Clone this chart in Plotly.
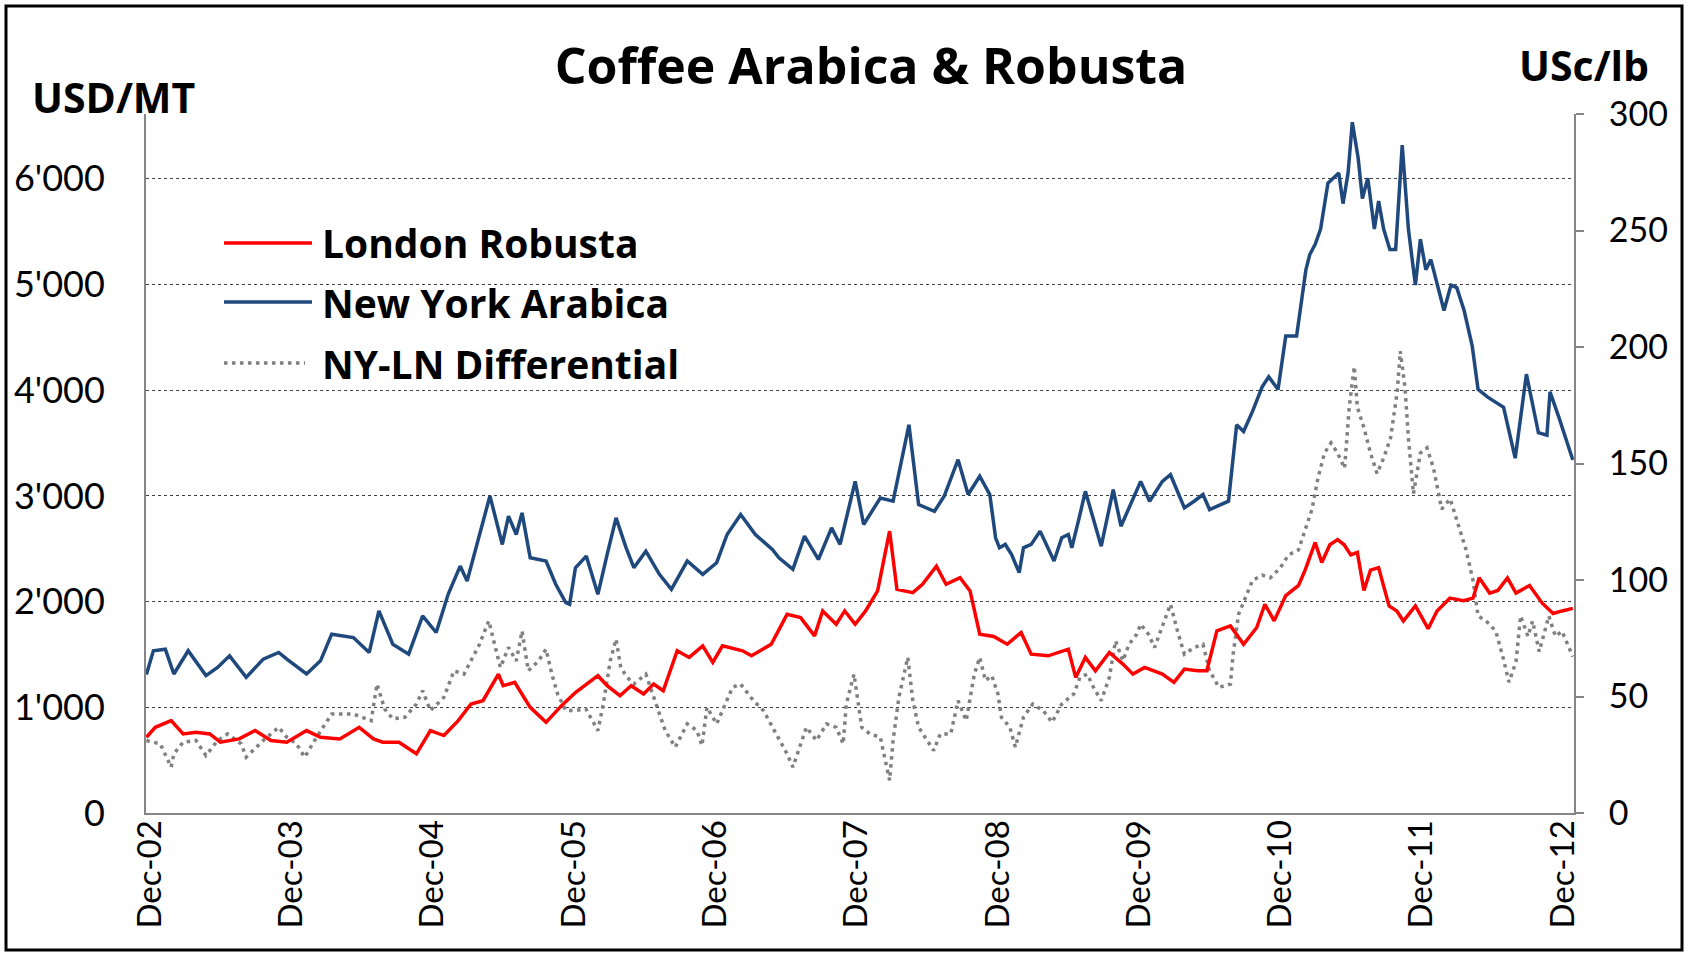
import plotly.graph_objects as go

# New York Arabica, USD/MT
arabica_dates = [
    "2002-11-22", "2002-12-10", "2003-01-10", "2003-02-01", "2003-03-10", "2003-04-25",
    "2003-05-25", "2003-06-25", "2003-08-07", "2003-09-20", "2003-10-30", "2003-11-20",
    "2004-01-10", "2004-02-15", "2004-03-15", "2004-05-10", "2004-06-20", "2004-07-15",
    "2004-08-20", "2004-09-30", "2004-11-05", "2004-12-10", "2005-01-10", "2005-02-10",
    "2005-02-28", "2005-04-01", "2005-04-28", "2005-05-30", "2005-06-15", "2005-07-05",
    "2005-07-20", "2005-08-10", "2005-09-20", "2005-10-15", "2005-11-10", "2005-11-20",
    "2005-12-05", "2006-01-02", "2006-02-01", "2006-02-25", "2006-03-20", "2006-04-15",
    "2006-05-05", "2006-06-05", "2006-07-10", "2006-08-10", "2006-09-20", "2006-10-30",
    "2006-12-05", "2007-01-01", "2007-02-05", "2007-03-15", "2007-04-28", "2007-05-15",
    "2007-06-20", "2007-07-20", "2007-08-25", "2007-09-28", "2007-10-20", "2007-11-28",
    "2007-12-20", "2008-02-01", "2008-03-05", "2008-04-15", "2008-05-10", "2008-06-20",
    "2008-07-15", "2008-08-20", "2008-09-15", "2008-10-15", "2008-11-10", "2008-11-25",
    "2008-12-05", "2008-12-20", "2009-01-05", "2009-01-25", "2009-02-05", "2009-02-25",
    "2009-03-20", "2009-04-25", "2009-05-15", "2009-06-01", "2009-06-10", "2009-07-01",
    "2009-07-15", "2009-08-25", "2009-09-25", "2009-10-15", "2009-11-25", "2009-12-05",
    "2009-12-28", "2010-01-30", "2010-02-20", "2010-03-28", "2010-04-22", "2010-05-15",
    "2010-06-01", "2010-07-20", "2010-08-10", "2010-08-28", "2010-09-20", "2010-10-15",
    "2010-11-01", "2010-11-25", "2010-12-15", "2011-01-12", "2011-02-05", "2011-02-15",
    "2011-03-01", "2011-03-15", "2011-04-03", "2011-05-01", "2011-05-12", "2011-05-25",
    "2011-06-05", "2011-06-20", "2011-07-01", "2011-07-15", "2011-08-01", "2011-08-12",
    "2011-08-25", "2011-09-10", "2011-09-25", "2011-10-12", "2011-10-28", "2011-11-15",
    "2011-11-28", "2011-12-12", "2011-12-25", "2012-01-10", "2012-01-28", "2012-02-15",
    "2012-03-01", "2012-03-20", "2012-04-10", "2012-04-25", "2012-05-20", "2012-06-30",
    "2012-07-30", "2012-08-28", "2012-09-28", "2012-10-20", "2012-10-28", "2012-11-20",
    "2012-12-26",
]
arabica_usd = [
    1310, 1535, 1550, 1315, 1535, 1300,
    1377, 1487, 1283, 1456, 1519, 1456,
    1315, 1440, 1692, 1660, 1519, 1912,
    1597, 1503, 1865, 1708, 2069, 2336,
    2195, 2620, 3000, 2541, 2808, 2635,
    2840, 2415, 2384, 2164, 1991, 1975,
    2321, 2431, 2069, 2447, 2792, 2509,
    2321, 2478, 2258, 2116, 2384, 2258,
    2368, 2635, 2824, 2635, 2494, 2415,
    2305, 2620, 2399, 2698, 2541, 3138,
    2730, 2981, 2950, 3673, 2918, 2855,
    2997, 3343, 3013, 3186, 3013, 2604,
    2509, 2541, 2447, 2274, 2509, 2541,
    2667, 2384, 2604, 2635, 2509, 2824,
    3044, 2525, 3060, 2714, 3044, 3138,
    2950, 3138, 3201, 2887, 2950, 3013,
    2871, 2950, 3673, 3610, 3800, 4032,
    4128, 4008, 4513, 4513, 5140, 5284,
    5380, 5525, 5959, 6055, 5766, 6055,
    6536, 6200, 5814, 6007, 5525, 5790,
    5525, 5332, 5332, 6320, 5525, 4995,
    5429, 5140, 5236, 4995, 4754, 4995,
    4971, 4754, 4417, 4008, 3935, 3839,
    3357, 4152, 3598, 3574, 3984, 3743,
    3340,
]

# London Robusta, USD/MT
robusta_dates = [
    "2002-11-22", "2002-12-15", "2003-01-25", "2003-02-25", "2003-03-30", "2003-05-05",
    "2003-06-01", "2003-07-20", "2003-08-30", "2003-10-10", "2003-11-20", "2004-01-10",
    "2004-02-15", "2004-04-05", "2004-05-25", "2004-07-01", "2004-07-25", "2004-09-05",
    "2004-10-20", "2004-11-25", "2004-12-30", "2005-02-05", "2005-03-10", "2005-04-10",
    "2005-05-20", "2005-06-01", "2005-07-01", "2005-08-10", "2005-09-20", "2005-10-30",
    "2005-12-05", "2006-02-01", "2006-02-25", "2006-03-30", "2006-04-28", "2006-05-30",
    "2006-06-25", "2006-07-20", "2006-08-25", "2006-09-25", "2006-10-30", "2006-11-25",
    "2006-12-20", "2007-02-10", "2007-03-05", "2007-04-25", "2007-06-05", "2007-07-10",
    "2007-08-15", "2007-09-05", "2007-10-10", "2007-11-01", "2007-11-28", "2007-12-25",
    "2008-01-25", "2008-02-25", "2008-03-15", "2008-04-25", "2008-05-20", "2008-06-25",
    "2008-07-20", "2008-08-25", "2008-09-20", "2008-10-15", "2008-11-20", "2008-12-25",
    "2009-01-30", "2009-02-25", "2009-04-10", "2009-06-01", "2009-06-20", "2009-07-15",
    "2009-08-10", "2009-09-15", "2009-10-20", "2009-11-15", "2009-12-15", "2010-01-30",
    "2010-03-01", "2010-03-28", "2010-05-01", "2010-05-25", "2010-06-20", "2010-07-25",
    "2010-08-28", "2010-10-01", "2010-10-22", "2010-11-15", "2010-12-15", "2011-01-17",
    "2011-02-03", "2011-03-01", "2011-03-18", "2011-04-08", "2011-04-28", "2011-05-15",
    "2011-06-01", "2011-06-18", "2011-07-05", "2011-07-22", "2011-08-12", "2011-09-08",
    "2011-09-28", "2011-10-15", "2011-11-15", "2011-12-18", "2012-01-10", "2012-02-12",
    "2012-03-18", "2012-04-12", "2012-04-28", "2012-05-25", "2012-06-15", "2012-07-10",
    "2012-08-01", "2012-09-05", "2012-10-08", "2012-11-05", "2012-11-28", "2012-12-26",
]
robusta_usd = [
    717, 811, 874, 748, 764, 748,
    670, 701, 780, 686, 670, 780,
    717, 701, 811, 701, 670, 670,
    560, 780, 733, 874, 1031, 1063,
    1314, 1204, 1236, 1000, 858, 1016,
    1140, 1299, 1204, 1110, 1204, 1126,
    1220, 1157, 1535, 1472, 1582, 1425,
    1582, 1535, 1487, 1597, 1880, 1849,
    1676, 1912, 1786, 1912, 1786, 1912,
    2101, 2667, 2116, 2085, 2164, 2336,
    2164, 2226, 2101, 1692, 1670, 1597,
    1708, 1503, 1487, 1550, 1283, 1472,
    1346, 1519, 1409, 1314, 1377, 1314,
    1236, 1362, 1346, 1346, 1723, 1770,
    1597, 1755, 1975, 1818, 2057, 2153,
    2298, 2560, 2370, 2538, 2587, 2538,
    2442, 2466, 2105, 2298, 2322, 1960,
    1912, 1816, 1960, 1744, 1912, 2033,
    2009, 2033, 2225, 2081, 2105, 2225,
    2081, 2153, 1985, 1888, 1912, 1936,
]

# NY-LN differential, USD/MT
diff_dates = [
    "2002-11-22", "2002-12-10", "2002-12-28", "2003-01-25", "2003-02-01", "2003-02-25",
    "2003-03-30", "2003-04-25", "2003-05-25", "2003-06-20", "2003-07-25", "2003-08-07",
    "2003-09-20", "2003-10-30", "2003-11-20", "2003-12-15", "2004-01-05", "2004-02-05",
    "2004-03-15", "2004-04-20", "2004-05-10", "2004-06-25", "2004-07-10", "2004-07-30",
    "2004-08-20", "2004-09-20", "2004-10-20", "2004-11-05", "2004-11-25", "2004-12-30",
    "2005-01-25", "2005-02-20", "2005-03-10", "2005-04-01", "2005-04-25", "2005-05-10",
    "2005-05-25", "2005-06-15", "2005-07-05", "2005-07-20", "2005-08-05", "2005-09-01",
    "2005-09-20", "2005-10-05", "2005-10-20", "2005-11-10", "2005-12-01", "2006-01-01",
    "2006-02-01", "2006-02-15", "2006-03-05", "2006-03-20", "2006-04-01", "2006-04-18",
    "2006-05-05", "2006-06-05", "2006-07-10", "2006-07-25", "2006-08-20", "2006-09-20",
    "2006-10-15", "2006-10-28", "2006-11-10", "2006-12-05", "2006-12-20", "2007-01-15",
    "2007-02-05", "2007-03-10", "2007-04-05", "2007-04-28", "2007-06-05", "2007-06-20",
    "2007-07-05", "2007-07-25", "2007-08-20", "2007-09-15", "2007-10-10", "2007-10-28",
    "2007-11-05", "2007-11-25", "2007-12-15", "2008-01-05", "2008-02-01", "2008-02-18",
    "2008-02-25", "2008-03-05", "2008-03-20", "2008-04-12", "2008-04-25", "2008-05-10",
    "2008-06-01", "2008-06-18", "2008-07-05", "2008-08-01", "2008-08-20", "2008-09-10",
    "2008-10-01", "2008-10-15", "2008-10-30", "2008-11-15", "2008-12-01", "2008-12-10",
    "2009-01-01", "2009-01-15", "2009-02-05", "2009-03-01", "2009-03-28", "2009-04-20",
    "2009-05-15", "2009-06-15", "2009-07-01", "2009-07-20", "2009-08-05", "2009-08-25",
    "2009-09-15", "2009-10-01", "2009-10-20", "2009-11-05", "2009-11-25", "2009-12-05",
    "2009-12-25", "2010-01-10", "2010-02-01", "2010-02-20", "2010-03-10", "2010-03-28",
    "2010-04-22", "2010-05-15", "2010-06-01", "2010-06-25", "2010-07-25", "2010-08-01",
    "2010-08-15", "2010-09-05", "2010-09-20", "2010-10-15", "2010-11-05", "2010-12-01",
    "2010-12-22", "2011-01-17", "2011-02-03", "2011-02-21", "2011-03-08", "2011-03-25",
    "2011-04-11", "2011-04-28", "2011-05-16", "2011-05-28", "2011-06-10", "2011-06-18",
    "2011-07-05", "2011-07-22", "2011-08-08", "2011-08-25", "2011-09-12", "2011-09-29",
    "2011-10-07", "2011-10-19", "2011-10-28", "2011-11-10", "2011-11-28", "2011-12-15",
    "2012-01-01", "2012-01-22", "2012-02-13", "2012-03-08", "2012-03-25", "2012-04-12",
    "2012-04-25", "2012-05-16", "2012-06-10", "2012-06-28", "2012-07-14", "2012-08-01",
    "2012-08-13", "2012-09-01", "2012-09-13", "2012-09-30", "2012-10-25", "2012-11-11",
    "2012-11-28", "2012-12-26",
]
diff_usd = [
    686, 670, 654, 434, 560, 670,
    686, 544, 686, 748, 654, 528,
    686, 811, 717, 654, 528, 717,
    937, 937, 937, 874, 1220, 984,
    890, 906, 1031, 1157, 969, 1094,
    1346, 1314, 1440, 1597, 1818, 1597,
    1377, 1566, 1440, 1723, 1346, 1440,
    1550, 1314, 1126, 969, 969, 984,
    780, 1031, 1440, 1645, 1377, 1283,
    1220, 1314, 937, 780, 623, 843,
    780, 638, 1000, 843, 969, 1189,
    1220, 1063, 969, 811, 560, 434,
    607, 811, 686, 843, 811, 654,
    1031, 1314, 811, 748, 717, 402,
    308, 686, 1094, 1472, 1063, 811,
    686, 591, 748, 748, 1063, 874,
    1314, 1472, 1252, 1300, 1126, 906,
    811, 623, 906, 1031, 969, 858,
    1031, 1126, 1283, 1314, 1189, 1063,
    1283, 1629, 1440, 1597, 1692, 1786,
    1692, 1566, 1786, 1975, 1723, 1503,
    1566, 1597, 1346, 1189, 1220, 1503,
    1880, 2069, 2201, 2250, 2225, 2320,
    2442, 2490, 2683, 2876, 3165, 3406,
    3502, 3406, 3261, 3839, 4225, 3839,
    3646, 3406, 3213, 3358, 3550, 3984,
    4369, 4032, 3550, 3020, 3406, 3454,
    3261, 2876, 2972, 2683, 2490, 2201,
    1864, 1816, 1720, 1479, 1238, 1431,
    1864, 1672, 1816, 1527, 1864, 1672,
    1720, 1479,
]

tick_dates = ["%d-12-01" % y for y in range(2002, 2013)]
tick_labels = ["Dec-%02d" % (y % 100) for y in range(2002, 2013)]
usd_ticks = [0, 1000, 2000, 3000, 4000, 5000, 6000]
usc_ticks = [0, 50, 100, 150, 200, 250, 300]

usc_max = 300
usd_max = usc_max * 22.0462  # 300 USc/lb expressed in USD/MT

FONT = "Lato"
BOLD_FONT = "Open Sans"
RED = "#ff0000"
BLUE = "#1f497d"
GREY = "#808080"
AXIS = "#868686"

# plot area in pixels, used to place the legend and frame
L, R, T, B = 146, 1574, 114, 813


def px(x):
    return (x - L) / (R - L)


def py(y):
    return (B - y) / (B - T)


fig = go.Figure()
fig.add_trace(go.Scatter(x=diff_dates, y=diff_usd, mode="lines", name="NY-LN Differential",
                         line=dict(color=GREY, width=3.5, dash="3.5px,4.5px")))
fig.add_trace(go.Scatter(x=robusta_dates, y=robusta_usd, mode="lines", name="London Robusta",
                         line=dict(color=RED, width=3.5)))
fig.add_trace(go.Scatter(x=arabica_dates, y=arabica_usd, mode="lines", name="New York Arabica",
                         line=dict(color=BLUE, width=3.5)))
# nothing drawn here, it only brings up the USc/lb scale on the right
fig.add_trace(go.Scatter(x=[None], y=[None], yaxis="y2", showlegend=False, hoverinfo="skip"))

# legend drawn by hand so the line samples are as long as in the original
legend_rows = [
    ("London Robusta", RED, "solid", 243, 312),
    ("New York Arabica", BLUE, "solid", 302, 312),
    ("NY-LN Differential", GREY, "3.5px,4.5px", 363, 305),
]
shapes = []
annotations = []
for name, color, dash, y, x_end in legend_rows:
    shapes.append(dict(type="line", xref="paper", yref="paper",
                       x0=px(224), x1=px(x_end), y0=py(y), y1=py(y),
                       line=dict(color=color, width=3.5, dash=dash)))
    annotations.append(dict(text="<b>%s</b>" % name, xref="paper", yref="paper",
                            x=px(320), y=py(y), xanchor="left", yanchor="middle",
                            showarrow=False,
                            font=dict(family=BOLD_FONT, size=39, color="black")))

annotations.append(dict(text="<b>USD/MT</b>", xref="paper", yref="paper",
                        x=px(30), y=py(97), xanchor="left", yanchor="middle",
                        showarrow=False, font=dict(family=BOLD_FONT, size=41, color="black")))
annotations.append(dict(text="<b>USc/lb</b>", xref="paper", yref="paper",
                        x=px(1517), y=py(65), xanchor="left", yanchor="middle",
                        showarrow=False, font=dict(family=BOLD_FONT, size=41, color="black")))

# outer frame
shapes.append(dict(type="rect", xref="paper", yref="paper",
                   x0=px(6), x1=px(1682), y0=py(950), y1=py(6),
                   line=dict(color="black", width=3)))

fig.update_layout(
    width=1688, height=955,
    margin=dict(l=L, r=1688 - R, t=T, b=955 - B),
    paper_bgcolor="white", plot_bgcolor="white",
    separators=".'",
    showlegend=False,
    font=dict(family=FONT, color="black"),
    title=dict(text="<b>Coffee Arabica &amp; Robusta</b>", x=871 / 1688, xanchor="center",
               y=1 - 66 / 955, yanchor="middle",
               font=dict(family=BOLD_FONT, size=50, color="black")),
    xaxis=dict(type="date", range=["2002-11-21", "2012-12-29"],
               tickvals=tick_dates, ticktext=tick_labels, tickangle=-90,
               tickfont=dict(size=33), showgrid=False, zeroline=False,
               showline=True, linecolor=AXIS, linewidth=2, ticks="", ticklabelstandoff=-8),
    yaxis=dict(range=[0, usd_max], tickvals=usd_ticks, tickformat=",d",
               showgrid=True, gridcolor="#404040", griddash="dot", gridwidth=1,
               zeroline=False, showline=True, linecolor=AXIS, linewidth=2,
               ticks="", tickfont=dict(size=36), ticklabelstandoff=32),
    yaxis2=dict(overlaying="y", side="right", range=[0, usc_max], tickvals=usc_ticks,
                showgrid=False, zeroline=False, showline=True, linecolor=AXIS, linewidth=2,
                ticks="outside", ticklen=8, tickcolor=AXIS, tickwidth=2,
                tickfont=dict(size=34), ticklabelstandoff=18),
    shapes=shapes,
    annotations=annotations,
)

# the page has a default 8px body margin; drop it so the figure sits at the page corner
fig.write_html("out.html", config={"displayModeBar": False},
               post_script="document.body.style.margin='0';")
